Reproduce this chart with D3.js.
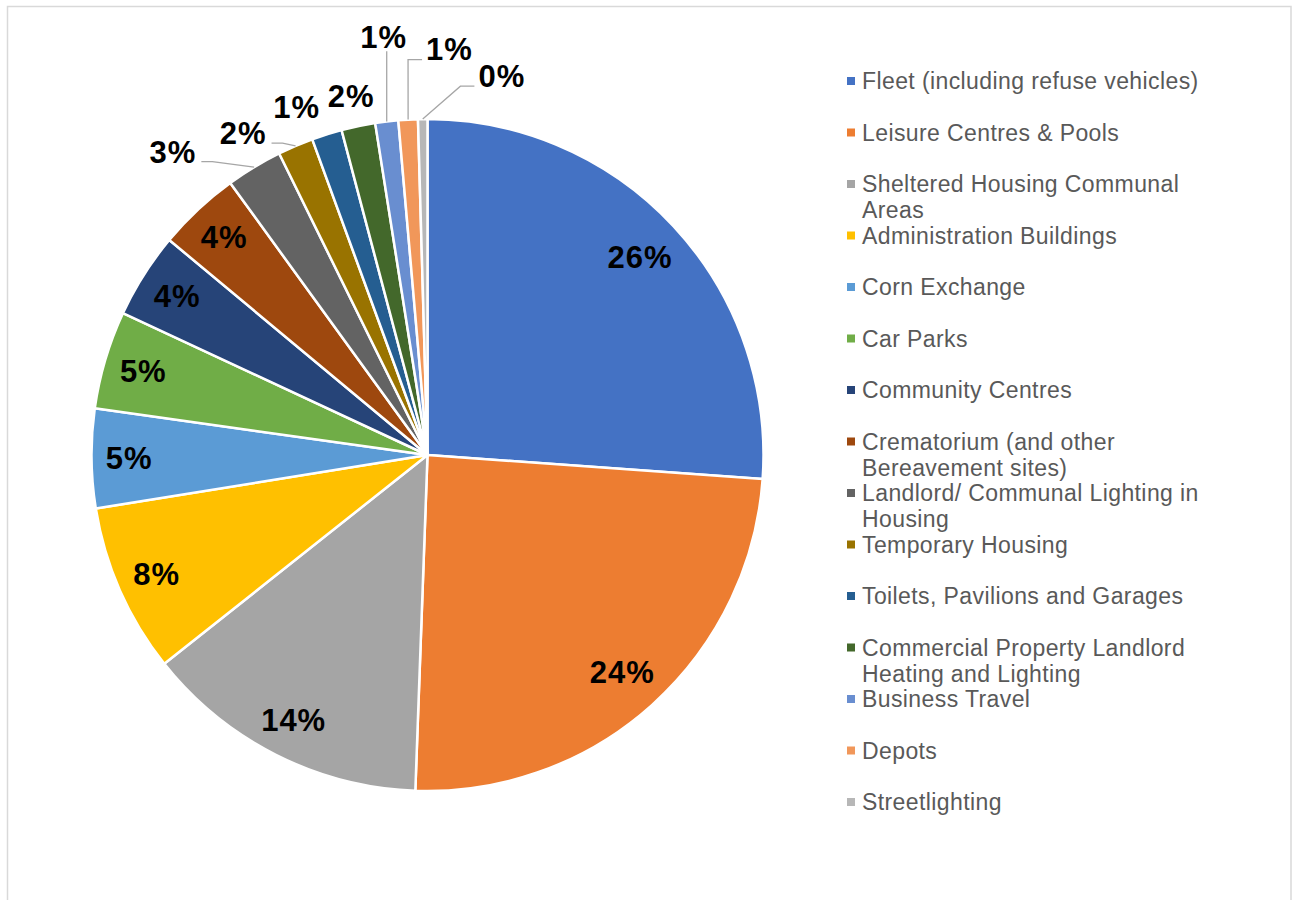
<!DOCTYPE html>
<html>
<head>
<meta charset="utf-8">
<script src="https://cdn.jsdelivr.net/npm/d3@7"></script>
<style>
  body { margin: 0; background: #fff; }
  svg { display: block; font-family: "Liberation Sans", Arial, sans-serif; }
</style>
</head>
<body>
<div id="chart"></div>
<script>
// categories in pie order (clockwise from 12 o'clock)
let categories = [
    "Fleet (including refuse vehicles)",
    "Leisure Centres & Pools",
    "Sheltered Housing Communal Areas",
    "Administration Buildings",
    "Corn Exchange",
    "Car Parks",
    "Community Centres",
    "Crematorium (and other Bereavement sites)",
    "Landlord/ Communal Lighting in Housing",
    "Temporary Housing",
    "Toilets, Pavilions and Garages",
    "Commercial Property Landlord Heating and Lighting",
    "Business Travel",
    "Depots",
    "Streetlighting"
];

// share of emissions, %
let shares = [26.05, 24.35, 13.7, 8.1, 4.75, 4.7, 4.1, 3.95, 2.7, 1.7, 1.45, 1.62, 1.1, 0.93, 0.45];

let colours = [
    "#4472C4", "#ED7D31", "#A5A5A5", "#FFC000", "#5B9BD5",
    "#70AD47", "#264478", "#9E480E", "#636363", "#997300",
    "#255E91", "#43682B", "#698ED0", "#F1975A", "#B7B7B7"
];

// where the small slices put their labels (angle clockwise from top, distance from centre)
let outsideLabels = {
    "Landlord/ Communal Lighting in Housing": {angle: 320.0, radius: 396, leader: true},
    "Temporary Housing": {angle: 330.2, radius: 371, leader: true},
    "Toilets, Pavilions and Garages": {angle: 339.4, radius: 372, leader: false},
    "Commercial Property Landlord Heating and Lighting": {angle: 348.0, radius: 367, leader: false},
    "Business Travel": {angle: 354.0, radius: 420, leader: true},
    "Depots": {angle: 3.1, radius: 406, leader: true},
    "Streetlighting": {angle: 11.1, radius: 386, leader: true}
};

let width = 1298, height = 900;
let cx = 427.5, cy = 455, R = 336;

let data = categories.map(function (c, i) {
    return {name: c, value: shares[i], colour: colours[i]};
});
let total = d3.sum(data, d => d.value);

let svg = d3.select("#chart")
    .append("svg")
    .attr("width", width)
    .attr("height", height);

// chart frame
svg.append("rect")
    .attr("x", 7.5)
    .attr("y", 6.5)
    .attr("width", 1283.5)
    .attr("height", 1000)
    .style("fill", "none")
    .style("stroke", "#d9d9d9")
    .style("stroke-width", 1.5);

let pie = d3.pie()
    .sort(null)
    .value(d => d.value);

let arc = d3.arc()
    .innerRadius(0)
    .outerRadius(R);

let arcs = pie(data);

let g = svg.append("g")
    .attr("transform", "translate(" + cx + "," + cy + ")");

g.selectAll("path.slice")
    .data(arcs)
    .enter()
    .append("path")
    .attr("class", "slice")
    .attr("d", arc)
    .style("fill", d => d.data.colour)
    .style("stroke", "#fff")
    .style("stroke-width", 2.5)
    .style("stroke-linejoin", "round");

function pct(d) {
    return Math.round(d.data.value / total * 100) + "%";
}

let inside = arcs.filter(d => !outsideLabels[d.data.name]);
let outside = arcs.filter(d => outsideLabels[d.data.name]);

// inside-end labels: push the text box out until its outer corner sits just inside the rim
g.selectAll("text.inlab")
    .data(inside)
    .enter()
    .append("text")
    .attr("class", "inlab")
    .attr("text-anchor", "middle")
    .attr("dy", "0.35em")
    .style("font-size", "31px")
    .style("font-weight", "bold")
    .style("letter-spacing", "1px")
    .style("fill", "#000")
    .text(pct)
    .each(function (d) {
        let w = this.getComputedTextLength();
        let h = 22;
        let a = (d.startAngle + d.endAngle) / 2;
        let ux = Math.sin(a), uy = -Math.cos(a);
        let ox = Math.sign(ux) * w / 2, oy = Math.sign(uy) * h / 2;
        let b = ux * ox + uy * oy;
        let rc = R - 14;
        let dist = -b + Math.sqrt(b * b - (ox * ox + oy * oy - rc * rc));
        d3.select(this).attr("x", ux * dist).attr("y", uy * dist);
    });

// outside labels with leader lines
let outG = g.append("g");
outside.forEach(function (d) {
    let p = outsideLabels[d.data.name];
    let a = p.angle * Math.PI / 180;
    let lx = p.radius * Math.sin(a), ly = -p.radius * Math.cos(a);

    let t = outG.append("text")
        .attr("x", lx)
        .attr("y", ly)
        .attr("text-anchor", "middle")
        .attr("dy", "0.35em")
        .style("font-size", "31px")
        .style("font-weight", "bold")
        .style("letter-spacing", "1px")
        .style("fill", "#000")
        .text(pct(d));

    if (!p.leader) return;

    let w = t.node().getComputedTextLength();
    let left = lx - w / 2, right = lx + w / 2;
    let m = (d.startAngle + d.endAngle) / 2;
    let px = R * Math.sin(m), py = -R * Math.cos(m);
    let pts;
    if (px >= left && px <= right) {
        pts = [[px, py], [px, ly + 14]];
    } else if (px > right) {
        pts = [[px, py], [right + 16, ly + 10], [right + 5, ly + 10]];
    } else {
        pts = [[px, py], [left - 18, ly + 10], [left - 4, ly + 10]];
    }
    outG.append("path")
        .attr("d", d3.line()(pts))
        .style("fill", "none")
        .style("stroke", "#a6a6a6")
        .style("stroke-width", 1.3);
});

// legend
let legX = 847, legY = 89, legStep = 51.5, lineH = 26, wrapW = 345;

let leg = svg.append("g");
data.forEach(function (d, i) {
    let by = legY + i * legStep;
    leg.append("rect")
        .attr("x", legX)
        .attr("y", by - 12)
        .attr("width", 8)
        .attr("height", 8)
        .style("fill", d.colour);

    let t = leg.append("text")
        .attr("x", legX + 15)
        .attr("y", by)
        .style("font-size", "23px")
        .style("letter-spacing", "0.4px")
        .style("fill", "#595959");

    let words = d.name.split(" ");
    let line = [];
    let ts = t.append("tspan").attr("x", legX + 15).attr("y", by);
    let n = 0;
    words.forEach(function (wd) {
        line.push(wd);
        ts.text(line.join(" "));
        if (ts.node().getComputedTextLength() > wrapW && line.length > 1) {
            line.pop();
            ts.text(line.join(" "));
            line = [wd];
            n++;
            ts = t.append("tspan")
                .attr("x", legX + 15)
                .attr("y", by + n * lineH)
                .text(wd);
        }
    });
});
</script>
</body>
</html>
